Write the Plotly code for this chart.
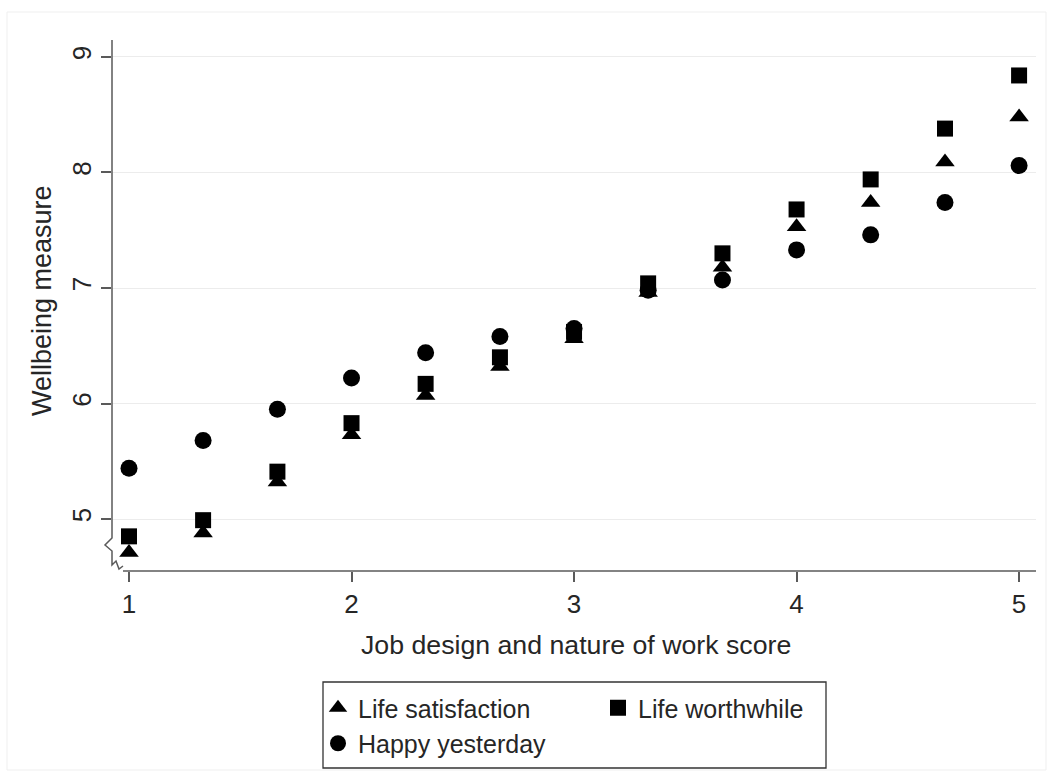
import plotly.graph_objects as go

# Job design score groups (thirds of a point from 1 to 5)
scores = [1.0, 1.333, 1.667, 2.0, 2.333, 2.667, 3.0, 3.333, 3.667, 4.0, 4.333, 4.667, 5.0]

# Mean wellbeing in each score group
life_satisfaction = [4.71, 4.88, 5.32, 5.73, 6.07, 6.32, 6.56, 6.96, 7.18, 7.53, 7.74, 8.09, 8.48]
life_worthwhile = [4.85, 4.99, 5.41, 5.83, 6.17, 6.40, 6.62, 7.04, 7.30, 7.68, 7.94, 8.38, 8.84]
happy_yesterday = [5.44, 5.68, 5.95, 6.22, 6.44, 6.58, 6.65, 6.98, 7.07, 7.33, 7.46, 7.74, 8.06]

x_ticks = [1, 2, 3, 4, 5]
y_ticks = [5, 6, 7, 8, 9]

W, H = 1052, 772
PL, PT, PW, PH = 112, 40, 924, 531  # plot area in pixels


def px(x):
    return (x - PL) / PW


def py(y):
    return (PT + PH - y) / PH


FONT = "Liberation Sans, Arial, sans-serif"
TXT = "#262626"
AX = "#5a5a5a"

fig = go.Figure()
fig.add_trace(go.Scatter(
    x=scores, y=life_satisfaction, mode="markers", name="Life satisfaction",
    marker=dict(symbol="triangle-up", size=17, color="black"), legend="legend"))
fig.add_trace(go.Scatter(
    x=scores, y=life_worthwhile, mode="markers", name="Life worthwhile",
    marker=dict(symbol="square", size=16, color="black"), legend="legend2"))
fig.add_trace(go.Scatter(
    x=scores, y=happy_yesterday, mode="markers", name="Happy yesterday",
    marker=dict(symbol="circle", size=17, color="black"), legend="legend"))

# axis lines, with the break marks at the bottom-left corner
yaxis_path = "M {} {} L {} {} L {} {} L {} {} L {} {} L {} {} L {} {} L {} {}".format(
    px(112), py(40), px(112), py(538), px(105), py(545), px(112), py(551),
    px(112), py(565), px(116), py(561), px(119), py(569), px(123), py(566))
shapes = [
    dict(type="path", xref="paper", yref="paper", path=yaxis_path,
         line=dict(color=AX, width=1.5)),
    dict(type="line", xref="paper", yref="paper", x0=px(123), x1=px(1036),
         y0=py(571), y1=py(571), line=dict(color=AX, width=1.5)),
    # legend frame
    dict(type="rect", xref="paper", yref="paper", x0=px(323), x1=px(826),
         y0=py(682), y1=py(768), line=dict(color="#333333", width=1.3)),
    # faint outer frame
    dict(type="rect", xref="paper", yref="paper", x0=px(7), x1=px(1046),
         y0=py(12), y1=py(770), line=dict(color="#efefef", width=1)),
]

annotations = [
    dict(text="Job design and nature of work score", xref="paper", yref="paper",
         x=px(576), y=py(645), xanchor="center", yanchor="middle", showarrow=False,
         font=dict(family=FONT, size=26.7, color=TXT)),
    dict(text="Wellbeing measure", xref="paper", yref="paper",
         x=px(42), y=py(301), xanchor="center", yanchor="middle", showarrow=False,
         textangle=-90, font=dict(family=FONT, size=27, color=TXT)),
]

fig.update_layout(
    width=W, height=H,
    margin=dict(l=PL, r=W - PL - PW, t=PT, b=H - PT - PH, autoexpand=False),
    paper_bgcolor="white", plot_bgcolor="white",
    font=dict(family=FONT, size=25, color=TXT),
    showlegend=True,
    legend=dict(x=px(318), y=py(685), xanchor="left", yanchor="top",
                bgcolor="rgba(0,0,0,0)", borderwidth=0,
                font=dict(family=FONT, size=25, color=TXT)),
    legend2=dict(x=px(598), y=py(685), xanchor="left", yanchor="top",
                 bgcolor="rgba(0,0,0,0)", borderwidth=0,
                 font=dict(family=FONT, size=25, color=TXT)),
    shapes=shapes,
    annotations=annotations,
    xaxis=dict(range=[0.9236, 5.076], tickvals=x_ticks, ticktext=[str(v) for v in x_ticks],
               showline=False, showgrid=False, zeroline=False,
               ticks="outside", ticklen=10, tickwidth=1.5, tickcolor=AX,
               tickfont=dict(family=FONT, size=26, color=TXT)),
    yaxis=dict(range=[4.55, 9.147], tickvals=y_ticks, ticktext=[str(v) for v in y_ticks],
               showline=False, showgrid=True, gridcolor="#ececec", gridwidth=1,
               zeroline=False, ticks="outside", ticklen=10, tickwidth=1.5, tickcolor=AX,
               tickangle=-90,
               tickfont=dict(family=FONT, size=26, color=TXT)),
)

fig.write_html("out.html")
